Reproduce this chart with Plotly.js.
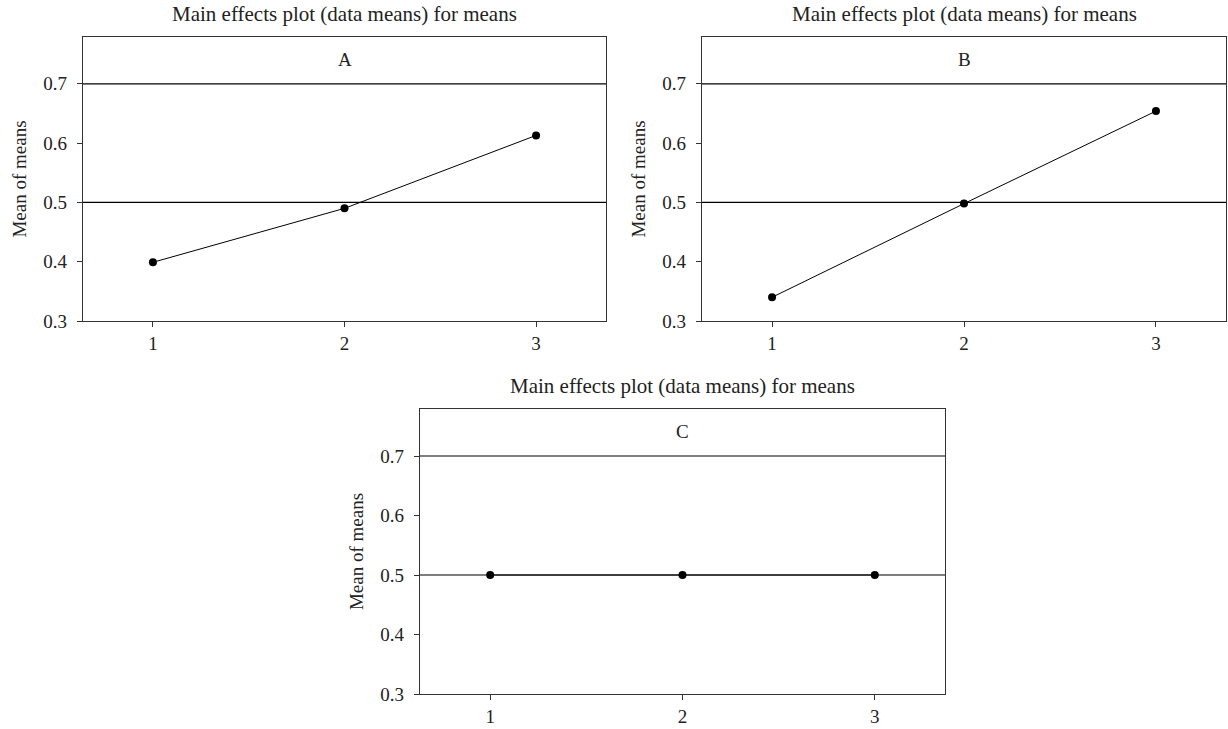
<!DOCTYPE html>
<html>
<head>
<meta charset="utf-8">
<script src="https://cdn.plot.ly/plotly-3.0.1.min.js"></script>
<style>html,body{margin:0;padding:0;background:#fff}#chart{width:1228px;height:729px}</style>
</head>
<body>
<div id="chart"></div>
<script>
// ---- data ----
const levels = [1, 2, 3];
const factorNames = ["A", "B", "C"];
const meansA = [0.399, 0.490, 0.613];
const meansB = [0.340, 0.498, 0.654];
const meansC = [0.500, 0.500, 0.500];
const grandMean = 0.5;
const stripLine = 0.7;
const yTicks = [0.3, 0.4, 0.5, 0.6, 0.7];
const xTicks = [1, 2, 3];
const panelTitle = "Main effects plot (data means) for means";
const yTitle = "Mean of means";

const FONT = "Liberation Serif, Times New Roman, serif";
const series = [meansA, meansB, meansC];
const suffix = ["", "2", "3"];

const traces = series.map((vals, i) => ({
  x: levels, y: vals, type: "scatter", mode: "lines+markers",
  xaxis: "x" + suffix[i], yaxis: "y" + suffix[i],
  line: {color: "#000", width: 1},
  marker: {color: "#000", size: 8},
  showlegend: false, hoverinfo: "skip"
}));

const domains = [
  {x: [83/1228, 606/1228], y: [1 - 321/729, 1 - 37/729]},
  {x: [702/1228, 1226/1228], y: [1 - 321/729, 1 - 37/729]},
  {x: [420/1228, 945/1228], y: [1 - 694/729, 1 - 409/729]}
];

const layout = {
  width: 1228, height: 729,
  margin: {l: 0, r: 0, t: 0, b: 0},
  paper_bgcolor: "#fff", plot_bgcolor: "#fff",
  font: {family: FONT, color: "#222", size: 19},
  shapes: [], annotations: []
};

domains.forEach((d, i) => {
  const s = suffix[i];
  layout["xaxis" + s] = {
    domain: d.x, range: [0.635, 3.365], anchor: "y" + s,
    tickvals: xTicks, ticktext: xTicks.map(String),
    ticks: "outside", ticklen: 5, tickcolor: "#333", ticklabelstandoff: 0,
    showline: true, mirror: true, linecolor: "#333", linewidth: 1.2,
    showgrid: false, zeroline: false, fixedrange: true,
    tickfont: {family: FONT, size: 19, color: "#222"}
  };
  layout["yaxis" + s] = {
    domain: d.y, range: [0.3, 0.779], anchor: "x" + s,
    tickvals: yTicks, ticktext: yTicks.map(v => v.toFixed(1)),
    ticks: "outside", ticklen: 5, tickcolor: "#333", ticklabelstandoff: 6,
    showline: true, mirror: true, linecolor: "#333", linewidth: 1.2,
    showgrid: false, zeroline: false, fixedrange: true,
    tickfont: {family: FONT, size: 19, color: "#222"},
    title: {text: yTitle, font: {family: FONT, size: 19, color: "#222"}, standoff: 11}
  };
  [grandMean, stripLine].forEach(v => {
    layout.shapes.push({
      type: "line", xref: "x" + s + " domain", yref: "y" + s,
      x0: 0, x1: 1, y0: v, y1: v, line: {color: "#000", width: 1.2}, layer: "below"
    });
  });
  layout.annotations.push({
    text: factorNames[i], xref: "x" + s + " domain", yref: "y" + s + " domain",
    x: 0.5, y: 0.92, showarrow: false, xanchor: "center", yanchor: "middle",
    font: {family: FONT, size: 19, color: "#222"}
  });
  layout.annotations.push({
    text: panelTitle, xref: "x" + s + " domain", yref: "y" + s + " domain",
    x: 0.5, y: 1, yshift: 9, showarrow: false, xanchor: "center", yanchor: "bottom",
    font: {family: FONT, size: 21, color: "#222"}
  });
});

Plotly.newPlot("chart", traces, layout, {displayModeBar: false, staticPlot: true});
</script>
</body>
</html>
